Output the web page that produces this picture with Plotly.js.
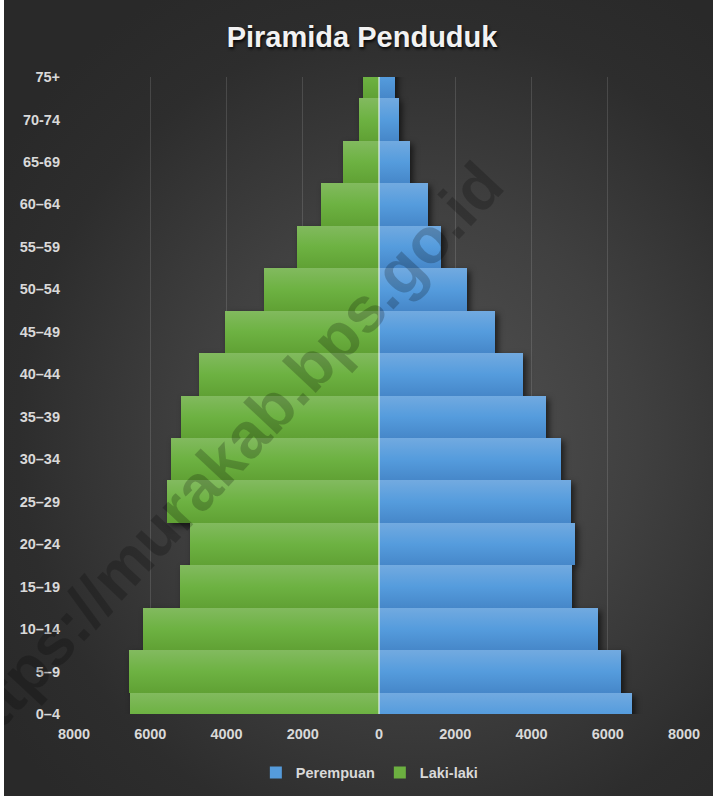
<!DOCTYPE html>
<html>
<head>
<meta charset="utf-8">
<script src="https://cdn.plot.ly/plotly-3.0.1.min.js"></script>
<style>
  html, body { margin: 0; padding: 0; background: #ffffff; }
  #wrap {
    position: absolute; left: 4px; top: 0; width: 709px; height: 796px;
    background: radial-gradient(ellipse 70% 65% at 58% 55%, #535353 0%, #404040 45%, #2d2d2d 80%, #292929 100%);
  }
  #chart { width: 709px; height: 796px; }
  #chart .barlayer { filter: drop-shadow(3px 3px 3px rgba(0,0,0,0.6)); }
</style>
</head>
<body>
<div id="wrap"><div id="chart"></div></div>
<script>
// ---- data (bottom to top) ----
const ageGroups = ['0–4','5–9','10–14','15–19','20–24','25–29','30–34','35–39','40–44','45–49','50–54','55–59','60–64','65-69','70-74','75+'];
const perempuan = [6636, 6348, 5744, 5062, 5141, 5036, 4774, 4380, 3769, 3043, 2321, 1620, 1272, 803, 525, 412];
const lakiLaki  = [6531, 6557, 6190, 5220, 4957, 5561, 5456, 5201, 4721, 4039, 3027, 2150, 1521, 944, 525, 420];
const xTickVals = [-8000, -6000, -4000, -2000, 0, 2000, 4000, 6000, 8000];
const xTickText = ['8000', '6000', '4000', '2000', '0', '2000', '4000', '6000', '8000'];
const seriesNames = ['Perempuan', 'Laki-laki'];
const chartTitle = 'Piramida Penduduk';
const watermark = 'https://murakab.bps.go.id';

function hasFont(name) {
  const c = document.createElement('canvas').getContext('2d');
  const t = 'Perempuan 0123456789 Laki';
  c.font = 'bold 40px monospace';
  const a = c.measureText(t).width;
  c.font = 'bold 40px "' + name + '", monospace';
  const b = c.measureText(t).width;
  return Math.abs(a - b) > 0.5;
}
const NARROW = hasFont('Liberation Sans Narrow');
const tickFamily = NARROW ? '"Liberation Sans Narrow", "Liberation Sans", sans-serif' : '"Liberation Sans", Arial, sans-serif';
const tickSize = NARROW ? 17 : 14.5;
const tickFont = { family: tickFamily, size: tickSize, color: '#d9d9d9', weight: 700 };

const data = [
  {
    type: 'bar', orientation: 'h', name: seriesNames[0],
    y: ageGroups, x: perempuan,
    marker: { color: '#559bdb', line: { width: 0 } },
    hoverinfo: 'skip'
  },
  {
    type: 'bar', orientation: 'h', name: seriesNames[1],
    y: ageGroups, x: lakiLaki.map(v => -v),
    marker: { color: '#6cb040', line: { width: 0 } },
    hoverinfo: 'skip'
  }
];

const layout = {
  width: 709, height: 796,
  margin: { l: 70, r: 29, t: 77, b: 82, autoexpand: false },
  paper_bgcolor: 'rgba(0,0,0,0)',
  plot_bgcolor: 'rgba(0,0,0,0)',
  barmode: 'overlay',
  bargap: 0,
  showlegend: true,
  title: {
    text: chartTitle,
    x: 0.505, xref: 'container', xanchor: 'center',
    y: 1 - 37 / 796, yref: 'container', yanchor: 'middle',
    font: { family: '"Liberation Sans", Arial, sans-serif', size: 29, color: '#f2f2f2', weight: 700,
            shadow: '1px 2px 3px rgba(0,0,0,0.85)' }
  },
  xaxis: {
    range: [-8000, 8000],
    tickvals: xTickVals, ticktext: xTickText,
    showgrid: true, gridcolor: 'rgba(255,255,255,0.13)', gridwidth: 1,
    zeroline: false, showline: false, ticks: '',
    ticklabelstandoff: 9, automargin: false,
    tickfont: tickFont, fixedrange: true
  },
  yaxis: {
    type: 'category',
    categoryorder: 'array', categoryarray: ageGroups,
    range: [0, ageGroups.length - 1],
    showgrid: false, zeroline: false, showline: false, ticks: '',
    ticklabelstandoff: 13, automargin: false,
    tickfont: tickFont, fixedrange: true
  },
  legend: {
    orientation: 'h',
    x: 0.485, xanchor: 'center',
    y: -0.092, yanchor: 'middle',
    font: tickFont,
    itemwidth: 30,
    bgcolor: 'rgba(0,0,0,0)'
  },
  shapes: [
    { type: 'line', xref: 'x', yref: 'paper', x0: 0, x1: 0, y0: 0, y1: 1,
      line: { color: 'rgba(235,245,235,0.55)', width: 2 }, layer: 'above' }
  ],
  annotations: [
    { text: watermark, xref: 'paper', yref: 'paper', x: 0.246, y: 0.40,
      xanchor: 'center', yanchor: 'middle', textangle: -47, showarrow: false,
      font: { family: '"Liberation Sans", Arial, sans-serif', size: 64, weight: 700, color: 'rgba(0,0,0,0.21)' } }
  ],
  hovermode: false
};

const gd = document.getElementById('chart');
Plotly.newPlot(gd, data, layout, { displayModeBar: false, staticPlot: true }).then(() => {
  const svg = gd.querySelector('.main-svg');
  const ns = 'http://www.w3.org/2000/svg';
  let defs = svg.querySelector('defs');
  if (!defs) { defs = document.createElementNS(ns, 'defs'); svg.insertBefore(defs, svg.firstChild); }
  const grads = [
    { id: 'gradBlue', stops: [['0', '#72aae0'], ['0.5', '#559cdd'], ['1', '#4687c9']] },
    { id: 'gradGreen', stops: [['0', '#82ba5f'], ['0.5', '#6db242'], ['1', '#60a134']] }
  ];
  grads.forEach(g => {
    const lg = document.createElementNS(ns, 'linearGradient');
    lg.setAttribute('id', g.id);
    lg.setAttribute('x1', '0'); lg.setAttribute('y1', '0');
    lg.setAttribute('x2', '0'); lg.setAttribute('y2', '1');
    g.stops.forEach(s => {
      const st = document.createElementNS(ns, 'stop');
      st.setAttribute('offset', s[0]);
      st.setAttribute('stop-color', s[1]);
      lg.appendChild(st);
    });
    defs.appendChild(lg);
  });
  gd.querySelectorAll('.barlayer .trace').forEach((tr, i) => {
    tr.querySelectorAll('.point path').forEach(p => { p.style.fill = 'url(#' + grads[i].id + ')'; });
  });
});
</script>
</body>
</html>
